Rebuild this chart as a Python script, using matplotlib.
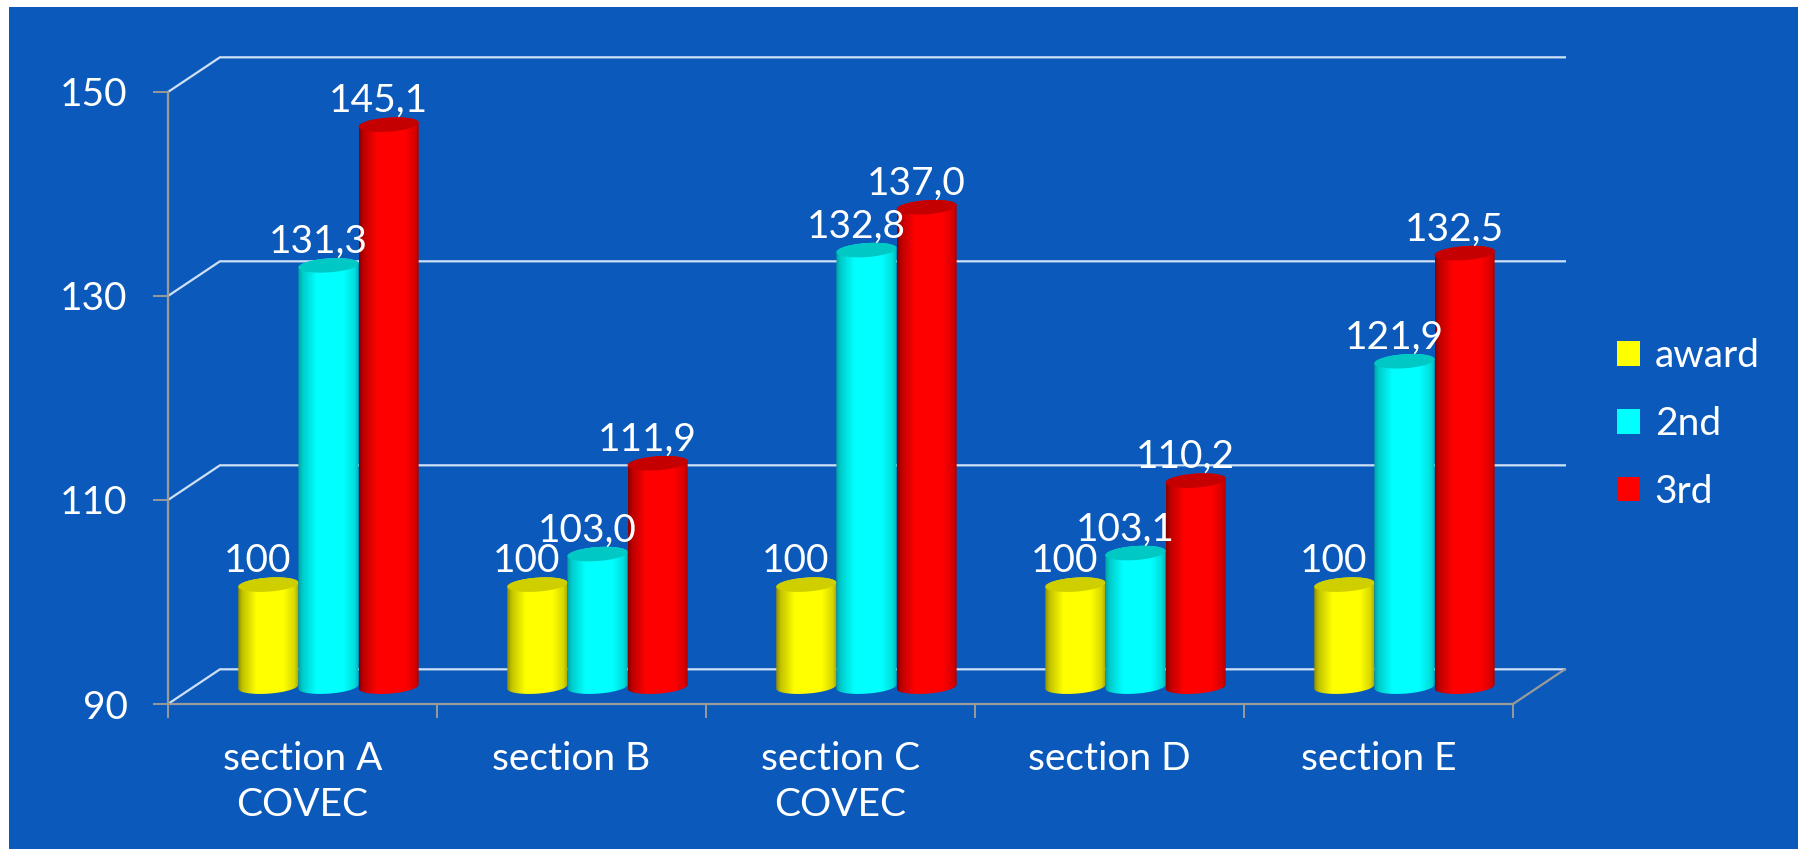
import numpy as np
import matplotlib
matplotlib.use("Agg")
import matplotlib.pyplot as plt
from matplotlib.patches import Patch, Rectangle
from matplotlib.path import Path
from matplotlib.colors import to_rgb

plt.rcParams['font.family'] = ['Lato', 'DejaVu Sans']

# data
sections = ["section A\nCOVEC", "section B", "section C\nCOVEC", "section D", "section E"]
award = [100, 100, 100, 100, 100]
second = [131.3, 103.0, 132.8, 103.1, 121.9]
third = [145.1, 111.9, 137.0, 110.2, 132.5]
award_labels = ["100", "100", "100", "100", "100"]
second_labels = ["131,3", "103,0", "132,8", "103,1", "121,9"]
third_labels = ["145,1", "111,9", "137,0", "110,2", "132,5"]
y_ticks = [90, 110, 130, 150]

W, H = 1798, 849
BLUE = "#0b5abb"
AXIS = "#9a9a98"
GRID = "#cfe0f5"
FS = 28

fig = plt.figure(figsize=(W / 100, H / 100), dpi=100, facecolor="white")
fig.patches.append(Rectangle((9 / W, 0), 1, 1 - 7 / H, transform=fig.transFigure,
                             facecolor=BLUE, edgecolor="none", zorder=-10))

# front plane of the pseudo 3D box
ax = fig.add_axes([168 / W, 1 - 704 / H, 1345 / W, 612 / H])
ax.patch.set_visible(False)
ax.set_xlim(0, 5)
ax.set_ylim(90, 150)

depth_x = 0.193
depth_y = 3.4

# back walls
for v in y_ticks:
    ax.plot([0, depth_x, 5 + depth_x], [v, v + depth_y, v + depth_y],
            color=GRID, lw=1.6, clip_on=False, zorder=1)
ax.plot([5, 5 + depth_x], [90, 90 + depth_y], color=AXIS, lw=1.6, clip_on=False, zorder=1)

for s in ["top", "right"]:
    ax.spines[s].set_visible(False)
for s in ["left", "bottom"]:
    ax.spines[s].set_color(AXIS)
    ax.spines[s].set_linewidth(1.6)

ax.set_yticks(y_ticks)
ax.set_yticklabels([str(v) for v in y_ticks], color="white", fontsize=FS)
ax.tick_params(axis="y", length=11, width=1.4, color=AXIS, pad=18)
ax.set_xticks(range(6))
ax.set_xticklabels([""] * 6)
ax.tick_params(axis="x", which="major", length=10, width=1.4, color=AXIS)
ax.set_xticks(np.arange(5) + 0.5, minor=True)
ax.set_xticklabels(sections, minor=True, color="white", fontsize=FS, linespacing=1.32)
ax.tick_params(axis="x", which="minor", length=0, pad=27)

bar_w = 0.2235
ell_h = 1.37
tilt = 0.2


def cylinder(cx, top, color, top_color, edge, z):
    base = 90 + depth_y / 2
    t = np.linspace(0, 2 * np.pi, 121)
    rx = bar_w / 2
    # side of the cylinder: bottom half ellipse + straight up + top half
    t_low = np.linspace(np.pi, 2 * np.pi, 60)
    t_up = np.linspace(0, np.pi, 60)
    xs = np.r_[cx + rx * np.cos(t_low), cx + rx * np.cos(t_up)]
    ys = np.r_[base + ell_h / 2 * np.sin(t_low) + tilt * np.cos(t_low),
               top + ell_h / 2 * np.sin(t_up) + tilt * np.cos(t_up)]
    clip = Path(np.c_[xs, ys], closed=False)

    pos = np.linspace(0, 1, 120)
    c = np.array(to_rgb(color))
    e = np.array(to_rgb(edge))
    mix = np.interp(pos, [0, 0.07, 0.3, 0.75, 0.93, 1], [1, 0.55, 0, 0, 0.35, 0.8])
    img = (c[None, :] * (1 - mix[:, None]) + e[None, :] * mix[:, None])[None, :, :]
    im = ax.imshow(img, extent=[cx - rx, cx + rx, base - 2, top + 2], aspect="auto",
                   origin="lower", zorder=z, interpolation="bilinear")
    im.set_clip_path(clip, transform=ax.transData)

    ax.fill(cx + rx * np.cos(t), top + ell_h / 2 * np.sin(t) + tilt * np.cos(t),
            color=top_color, lw=0, zorder=z + 0.1, clip_on=False)


series = [
    (award, award_labels, "#ffff00", "#cfcf00", "#8f8f00"),
    (second, second_labels, "#00ffff", "#00c8c4", "#00a0a0"),
    (third, third_labels, "#ff0000", "#c40000", "#880000"),
]

for j, (vals, labs, col, top_col, edge) in enumerate(series):
    for i, v in enumerate(vals):
        cx = i + 0.5 + depth_x / 2 + (j - 1) * bar_w
        cylinder(cx, v + depth_y / 2, col, top_col, edge, 3 + j)
        ax.annotate(labs[i], (cx, v + depth_y / 2), xytext=(-7.5, 17), textcoords="offset points",
                    ha="center", va="center", color="white", fontsize=FS, zorder=10,
                    annotation_clip=False)

ax.set_xlim(0, 5)
ax.set_ylim(90, 150)

handles = [Patch(facecolor=s[2], edgecolor="none") for s in series]
leg = fig.legend(handles, ["award", "2nd", "3rd"], loc="center left",
                 bbox_to_anchor=(1582 / W, 1 - 424 / H), frameon=False, fontsize=FS,
                 labelcolor="white", handlelength=0.59, handleheight=0.59,
                 handletextpad=0.38, labelspacing=0.82)

fig.savefig("out.png", dpi=100, facecolor=fig.get_facecolor())
